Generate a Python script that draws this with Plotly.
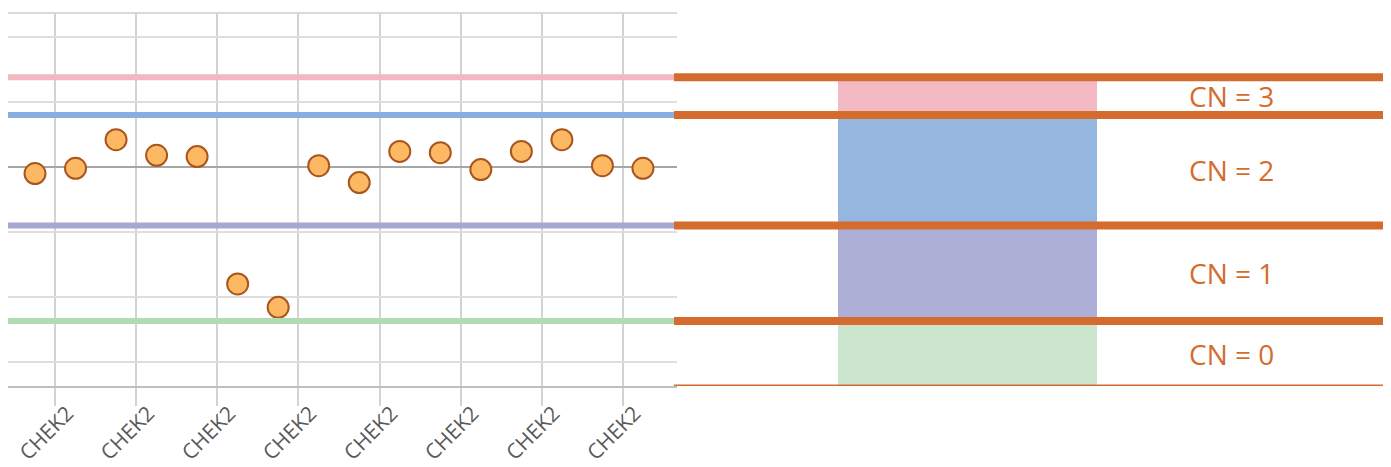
import plotly.graph_objects as go

# ---- data ----
tick_labels = ["CHEK2"] * 8
tick_positions = [0.5, 2.5, 4.5, 6.5, 8.5, 10.5, 12.5, 14.5]
point_index = list(range(16))
log_ratio = [-0.05, -0.01, 0.21, 0.09, 0.08, -0.90, -1.08, 0.01,
             -0.12, 0.12, 0.11, -0.02, 0.12, 0.21, 0.01, -0.01]
thresholds = [0.69, 0.40, -0.45, -1.185]          # band boundaries
threshold_colors = ["#F2B7C1", "#88AFDF", "#A5A8D1", "#B1DCB3"]
band_labels = ["CN = 3", "CN = 2", "CN = 1", "CN = 0"]
band_colors = ["#F3BAC3", "#95B6DF", "#ADAFD6", "#CCE5CD"]
y_min, y_max = -1.685, 1.185

OFF = 8                     # page body margin
W, H = 1391 - OFF, 467 - OFF
ORANGE = "#D46C2E"


def px(x):
    return (x - OFF) / W


fig = go.Figure()
fig.add_trace(go.Scatter(
    x=point_index, y=log_ratio, mode="markers",
    marker=dict(size=21, color="#FDB863", line=dict(color="#A9561E", width=2)),
    showlegend=False, hoverinfo="skip"))

shapes = []
shapes.append(dict(type="line", xref="x domain", yref="y domain", x0=0, x1=1, y0=1, y1=1,
                   line=dict(color="#DADADA", width=2), layer="below"))
for t, c in zip(thresholds, threshold_colors):
    shapes.append(dict(type="line", xref="paper", yref="y", x0=0, x1=px(676), y0=t, y1=t,
                       line=dict(color=c, width=6)))
for i, c in enumerate(band_colors):
    top = thresholds[i]
    bot = thresholds[i + 1] if i + 1 < len(thresholds) else y_min
    shapes.append(dict(type="rect", xref="paper", yref="y", x0=px(838), x1=px(1097),
                       y0=bot, y1=top, fillcolor=c, line=dict(width=0)))
for t in thresholds:
    shapes.append(dict(type="line", xref="paper", yref="y", x0=px(674), x1=px(1388), y0=t, y1=t,
                       line=dict(color=ORANGE, width=8)))
shapes.append(dict(type="line", xref="paper", yref="y", x0=px(674), x1=px(1388), y0=y_min, y1=y_min,
                   line=dict(color=ORANGE, width=3)))

annotations = []
for i, lab in enumerate(band_labels):
    top = thresholds[i]
    bot = thresholds[i + 1] if i + 1 < len(thresholds) else y_min
    annotations.append(dict(text=lab, xref="paper", yref="y", x=px(1231), y=(top + bot) / 2,
                            showarrow=False, xanchor="center", yanchor="middle",
                            font=dict(family="Open Sans", size=28, color=ORANGE)))

fig.update_layout(
    width=W, height=H, margin=dict(l=0, r=0, t=0, b=0, autoexpand=False),
    paper_bgcolor="white", plot_bgcolor="white",
    shapes=shapes, annotations=annotations,
    xaxis=dict(domain=[0, px(677)], range=[(OFF - 35) / 40.53, 15.84], automargin=False,
               tickmode="array", tickvals=tick_positions, ticktext=tick_labels,
               tickangle=-45, tickfont=dict(family="Open Sans", size=21, color="#595959"),
               ticklabeloverflow="allow", ticklabelshift=12, ticklabelstandoff=-13,
               showgrid=True, gridcolor="#D3D3D3", gridwidth=1.5,
               ticks="outside", ticklen=18, tickcolor="#D3D3D3", tickwidth=1.5,
               showline=True, linecolor="#BFBFBF", linewidth=2, zeroline=False),
    yaxis=dict(domain=[(H - (386 - OFF)) / H, (H - (13 - OFF)) / H], range=[y_min, y_max],
               automargin=False, tick0=0, dtick=0.5, showticklabels=False,
               showgrid=True, gridcolor="#DEDEDE", gridwidth=2,
               zeroline=True, zerolinecolor="#A6A6A6", zerolinewidth=1.5),
)

fig.write_html("out.html")
